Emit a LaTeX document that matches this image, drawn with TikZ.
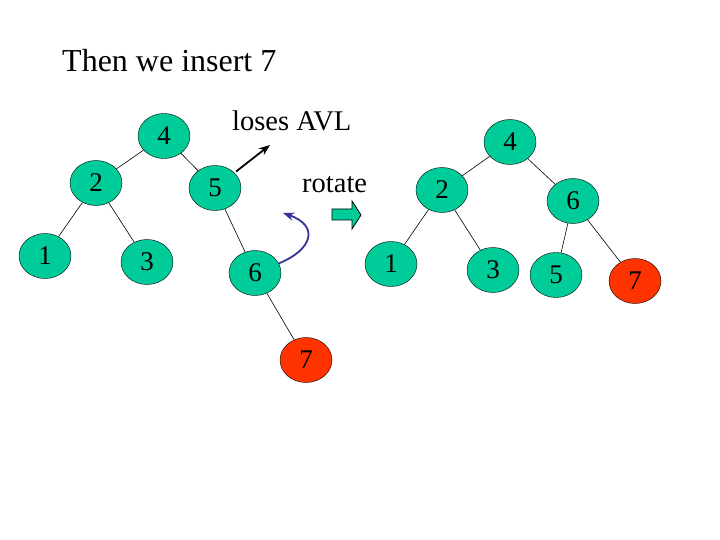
\documentclass[tikz,border=0pt]{standalone}
\usepackage{fontspec}
\setmainfont{Liberation Serif}
\usetikzlibrary{shapes.geometric,arrows.meta,positioning}
\definecolor{avlgreen}{RGB}{0,204,153}
\definecolor{avlred}{RGB}{255,51,0}
\definecolor{rotblue}{RGB}{51,51,153}
\tikzset{
  >=Stealth,
  tnode/.style={draw,ellipse,fill=avlgreen,minimum width=52pt,minimum height=45pt,inner sep=0pt,font=\fontsize{27}{27}\selectfont},
  tnew/.style={tnode,fill=avlred},
  lbl/.style={anchor=base west,inner sep=0pt,font=\fontsize{28.5}{28.5}\selectfont},
  tedge/.style={line width=0.6pt}
}
\begin{document}
\begin{tikzpicture}[x=1pt,y=-1pt]
\useasboundingbox (0,0) rectangle (720,540);
\node[lbl,font=\fontsize{32}{32}\selectfont](title) at (62,72){Then we insert 7};
% before the rotation
\node[tnode](a4) at (164,136){4};\node[tnode](a2) at (96,183){2};\node[tnode](a5) at (215,188){5};
\node[tnode](a1) at (45,256){1};\node[tnode](a3) at (147,262){3};\node[tnode](a6) at (255,273){6};
\node[tnew](a7) at (306,360){7};
\draw[tedge](a4)--(a2);\draw[tedge](a4)--(a5);
\draw[tedge](a2)--(a1);\draw[tedge](a2)--(a3);
\draw[tedge](a5)--(a6);\draw[tedge](a6)--(a7);
\node[lbl](loses) at (232,131){loses AVL};
\coordinate (avl) at (270,145);
\draw[->,line width=1.8pt,shorten <=2pt](a5)--(avl);
\coordinate (back) at (283,213);
\draw[->,rotblue,line width=1.8pt](a6.22) .. controls (312,250) and (320,226) .. (back);
\node[lbl](rotate) at (302,193){rotate};
\draw[fill=avlgreen,line width=0.8pt] (332,209)--(352,209)--(352,201)--(361,215)--(352,229)--(352,220)--(332,220)--cycle;
% after the rotation
\node[tnode](b4) at (510,142){4};\node[tnode](b2) at (442,190){2};\node[tnode](b6) at (573,201){6};
\node[tnode](b1) at (391,264){1};\node[tnode](b3) at (493,270){3};
\node[tnode](b5) at (556,275){5};\node[tnew](b7) at (635,281){7};
\draw[tedge](b4)--(b2);\draw[tedge](b4)--(b6);
\draw[tedge](b2)--(b1);\draw[tedge](b2)--(b3);
\draw[tedge](b6)--(b5);\draw[tedge](b6)--(b7);
\end{tikzpicture}
\end{document}
